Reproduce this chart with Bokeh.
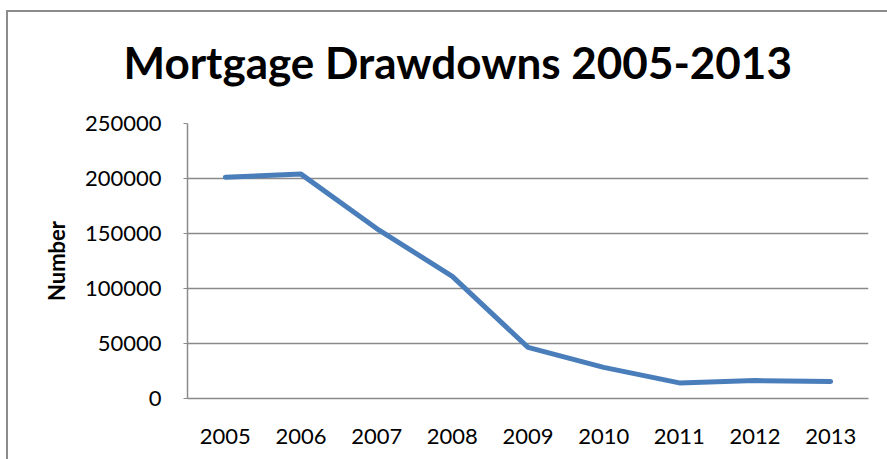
from bokeh.plotting import figure
from bokeh.models import FactorRange, Range1d, FixedTicker, BasicTickFormatter, Title
from bokeh.embed import file_html
from bokeh.resources import INLINE

years = ["2005", "2006", "2007", "2008", "2009", "2010", "2011", "2012", "2013"]
drawdowns = [201200, 204000, 154500, 111000, 46500, 28300, 14200, 16300, 15400]
y_ticks = [0, 50000, 100000, 150000, 200000, 250000]
title_text = "Mortgage Drawdowns 2005-2013"
y_label = "Number"

FONT = "Lato"
GRAY = "#8a8a8a"

p = figure(width=887, height=459, x_range=FactorRange(*years), y_range=Range1d(0, 250000),
           output_backend="svg", toolbar_location=None,
           min_border_left=187, min_border_right=19, min_border_top=123, min_border_bottom=61)
p.border_fill_color = None
p.background_fill_color = "#ffffff"
p.styles = {
    "background-color": "#ffffff",
    "background-image": "linear-gradient(#8c8c8c, #8c8c8c), linear-gradient(#8c8c8c, #8c8c8c)",
    "background-size": "2px 460px, 900px 2px",
    "background-position": "6px 10px, 6px 10px",
    "background-repeat": "no-repeat",
}

p.line(years, drawdowns, line_color="#4a7ebb", line_width=5, line_cap="round", line_join="round")

t = Title(text=title_text, align="left", vertical_align="top", text_font=FONT,
          text_font_size="44px", text_font_style="bold", text_color="#000000",
          offset=-64, standoff=68)
p.add_layout(t, "above")

p.outline_line_color = None
p.xgrid.grid_line_color = None
p.ygrid.grid_line_color = GRAY
p.ygrid.grid_line_width = 1.5

p.yaxis.ticker = FixedTicker(ticks=y_ticks)
p.yaxis.formatter = BasicTickFormatter(use_scientific=False)
p.yaxis.axis_line_color = GRAY
p.yaxis.axis_line_width = 1.5
p.yaxis.major_tick_line_color = GRAY
p.yaxis.major_tick_out = 4
p.yaxis.major_tick_in = 0
p.yaxis.minor_tick_line_color = None
p.yaxis.major_label_text_font = FONT
p.yaxis.major_label_text_font_size = "22px"
p.yaxis.major_label_text_color = "#000000"
p.yaxis.major_label_standoff = 22
p.yaxis.axis_label = y_label
p.yaxis.axis_label_text_font = FONT
p.yaxis.axis_label_text_font_size = "22px"
p.yaxis.axis_label_text_font_style = "bold"
p.yaxis.axis_label_text_color = "#000000"
p.yaxis.axis_label_standoff = 12

p.xaxis.axis_line_color = GRAY
p.xaxis.axis_line_width = 1.5
p.xaxis.major_tick_line_color = None
p.xaxis.minor_tick_line_color = None
p.xaxis.major_label_text_font = FONT
p.xaxis.major_label_text_font_size = "22px"
p.xaxis.major_label_text_color = "#000000"
p.xaxis.major_label_standoff = 24

open("out.html", "w").write(file_html(p, INLINE))
